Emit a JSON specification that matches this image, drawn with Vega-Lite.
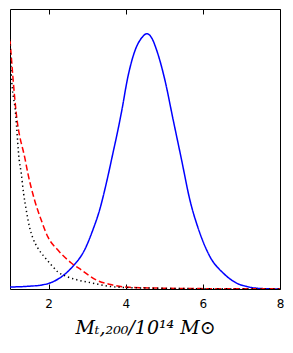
{
  "$schema": "https://vega.github.io/schema/vega-lite/v6.json",
  "autosize": {"type": "none"},
  "padding": {"left": 10, "top": 9, "right": 13, "bottom": 64},
  "width": 270,
  "height": 280,
  "config": {"view": {"stroke": "black", "strokeWidth": 1}},
  "data": {"values": [
    {"s": "blue", "x": 1.0, "y": 0.007},
    {"s": "blue", "x": 1.5, "y": 0.010},
    {"s": "blue", "x": 1.852, "y": 0.015},
    {"s": "blue", "x": 2.1, "y": 0.025},
    {"s": "blue", "x": 2.286, "y": 0.039},
    {"s": "blue", "x": 2.631, "y": 0.081},
    {"s": "blue", "x": 2.935, "y": 0.140},
    {"s": "blue", "x": 3.151, "y": 0.212},
    {"s": "blue", "x": 3.325, "y": 0.283},
    {"s": "blue", "x": 3.499, "y": 0.379},
    {"s": "blue", "x": 3.670, "y": 0.486},
    {"s": "blue", "x": 3.80, "y": 0.569},
    {"s": "blue", "x": 3.888, "y": 0.630},
    {"s": "blue", "x": 4.060, "y": 0.760},
    {"s": "blue", "x": 4.234, "y": 0.849},
    {"s": "blue", "x": 4.408, "y": 0.896},
    {"s": "blue", "x": 4.55, "y": 0.912},
    {"s": "blue", "x": 4.68, "y": 0.895},
    {"s": "blue", "x": 4.797, "y": 0.855},
    {"s": "blue", "x": 5.013, "y": 0.748},
    {"s": "blue", "x": 5.229, "y": 0.605},
    {"s": "blue", "x": 5.447, "y": 0.462},
    {"s": "blue", "x": 5.662, "y": 0.319},
    {"s": "blue", "x": 5.922, "y": 0.200},
    {"s": "blue", "x": 6.182, "y": 0.116},
    {"s": "blue", "x": 6.527, "y": 0.057},
    {"s": "blue", "x": 6.875, "y": 0.021},
    {"s": "blue", "x": 7.135, "y": 0.009},
    {"s": "blue", "x": 7.48, "y": 0.002},
    {"s": "blue", "x": 8.0, "y": 0.0},
    {"s": "red", "x": 1.0, "y": 0.890},
    {"s": "red", "x": 1.161, "y": 0.629},
    {"s": "red", "x": 1.395, "y": 0.461},
    {"s": "red", "x": 1.462, "y": 0.414},
    {"s": "red", "x": 1.636, "y": 0.318},
    {"s": "red", "x": 1.81, "y": 0.246},
    {"s": "red", "x": 1.982, "y": 0.186},
    {"s": "red", "x": 2.242, "y": 0.139},
    {"s": "red", "x": 2.59, "y": 0.093},
    {"s": "red", "x": 2.849, "y": 0.068},
    {"s": "red", "x": 3.239, "y": 0.032},
    {"s": "red", "x": 3.67, "y": 0.014},
    {"s": "red", "x": 4.104, "y": 0.006},
    {"s": "red", "x": 5.14, "y": 0.0025},
    {"s": "red", "x": 6.44, "y": 0.001},
    {"s": "red", "x": 8.0, "y": 0.0005},
    {"s": "black", "x": 1.0, "y": 0.890},
    {"s": "black", "x": 1.031, "y": 0.771},
    {"s": "black", "x": 1.143, "y": 0.629},
    {"s": "black", "x": 1.239, "y": 0.461},
    {"s": "black", "x": 1.291, "y": 0.414},
    {"s": "black", "x": 1.351, "y": 0.343},
    {"s": "black", "x": 1.421, "y": 0.282},
    {"s": "black", "x": 1.506, "y": 0.221},
    {"s": "black", "x": 1.592, "y": 0.182},
    {"s": "black", "x": 1.722, "y": 0.146},
    {"s": "black", "x": 1.896, "y": 0.114},
    {"s": "black", "x": 2.07, "y": 0.086},
    {"s": "black", "x": 2.242, "y": 0.061},
    {"s": "black", "x": 2.501, "y": 0.043},
    {"s": "black", "x": 2.761, "y": 0.032},
    {"s": "black", "x": 3.143, "y": 0.021},
    {"s": "black", "x": 3.662, "y": 0.008},
    {"s": "black", "x": 4.36, "y": 0.004},
    {"s": "black", "x": 6.0, "y": 0.001},
    {"s": "black", "x": 8.0, "y": 0.0}
  ]},
  "layer": [
    {
      "mark": {"type": "line", "strokeWidth": 1.5, "interpolate": "monotone", "clip": true},
      "encoding": {
        "x": {"field": "x", "type": "quantitative", "scale": {"domain": [1, 8], "nice": false, "zero": false},
          "axis": {"orient": "bottom", "values": [2, 4, 6, 8], "grid": false, "domain": false, "tickSize": -5, "tickColor": "black", "labelColor": "black", "labelFont": "DejaVu Sans", "labelFontSize": 12, "labelPadding": 14, "labelFlush": false,
            "title": "M\u209c,\u2082\u2080\u2080/10\u00b9\u2074 M\u2299", "titleFont": "DejaVu Serif", "titleFontStyle": "italic", "titleFontWeight": "normal", "titleFontSize": 19, "titleColor": "black", "titlePadding": 9}},
        "y": {"field": "y", "type": "quantitative", "scale": {"domain": [0, 1], "nice": false}, "axis": null},
        "color": {"field": "s", "type": "nominal", "scale": {"domain": ["blue", "red", "black"], "range": ["#0000ff", "#ff0000", "#000000"]}, "legend": null},
        "strokeDash": {"field": "s", "type": "nominal", "scale": {"domain": ["blue", "red", "black"], "range": [[1, 0], [6, 3], [1.3, 3]]}, "legend": null}
      }
    },
    {
      "mark": {"type": "line", "opacity": 0},
      "encoding": {
        "x": {"field": "x", "type": "quantitative", "axis": {"orient": "top", "values": [2, 4, 6, 8], "grid": false, "domain": false, "labels": false, "tickSize": -5, "tickColor": "black", "title": null}},
        "y": {"field": "y", "type": "quantitative"},
        "detail": {"field": "s", "type": "nominal"}
      }
    }
  ],
  "resolve": {"axis": {"x": "independent"}}
}
